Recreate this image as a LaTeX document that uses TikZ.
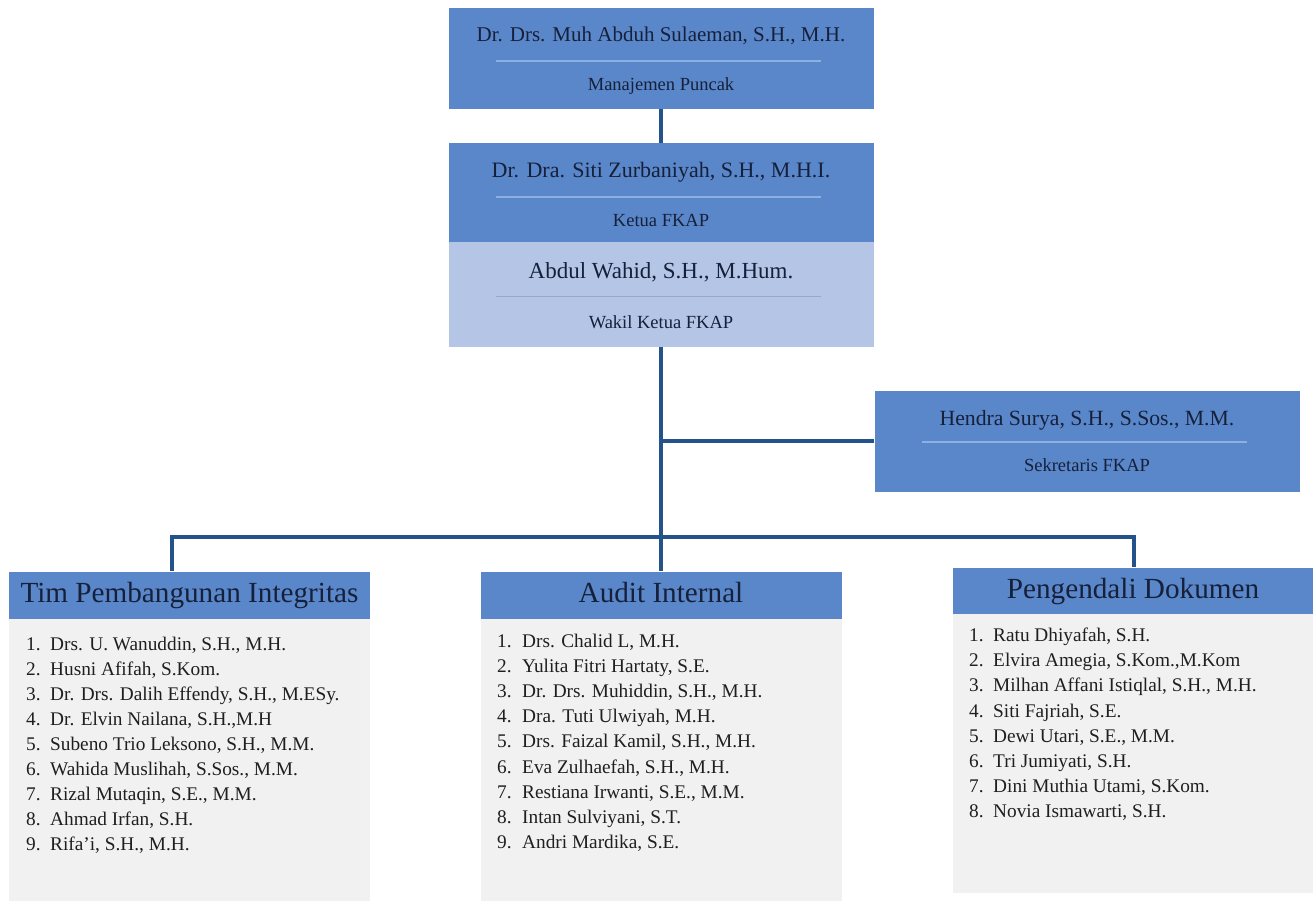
\documentclass[tikz,border=0pt]{standalone}
\usepackage{fontspec}
\setmainfont{Liberation Serif}
\definecolor{KotakBiru}{HTML}{5A87C9}
\definecolor{KotakMuda}{HTML}{B4C5E6}
\definecolor{KotakDaftar}{HTML}{F1F1F1}
\definecolor{GarisHubung}{HTML}{24528A}
\definecolor{TeksGelap}{HTML}{16203A}
\definecolor{GarisPisah}{HTML}{8DB0E3}
\definecolor{GarisPisahMuda}{HTML}{98A8C8}
\usetikzlibrary{calc}
\tikzset{
    kotak/.style={rectangle, inner sep=0pt, fill=KotakBiru,
        minimum width=425pt, minimum height=101pt},
    kotak muda/.style={kotak, fill=KotakMuda, minimum height=105pt},
    nama/.style={anchor=base, inner sep=0pt, text=TeksGelap,
        font=\fontsize{21}{24}\selectfont},
    jabatan/.style={anchor=base, inner sep=0pt, text=TeksGelap,
        font=\fontsize{18.5}{22}\selectfont},
    pisah/.style={draw=GarisPisah, line width=2pt},
    judul/.style={rectangle, inner sep=0pt, fill=KotakBiru, text=TeksGelap,
        minimum width=361pt, minimum height=47pt,
        text height=20pt, text depth=6pt,
        font=\fontsize{29.2}{33}\selectfont},
    daftar/.style={rectangle, inner sep=0pt, fill=KotakDaftar,
        minimum width=361pt},
    nomor/.style={anchor=base west, inner sep=0pt, text=black!88,
        font=\fontsize{19.3}{22}\selectfont},
    butir/.style={nomor},
    hubung/.style={draw=GarisHubung, line width=4pt}
}

\begin{document}
\begin{tikzpicture}[x=1pt, y=-1pt]

\useasboundingbox (0,0) rectangle (1313,902);

% Kotak pimpinan
\node[kotak] (Puncak) at (661,58) {};
\node[kotak, minimum height=99pt] (Ketua) at (661,192.5) {};
\node[kotak muda] (Wakil) at (661,294.2) {};
\node[kotak] (Sekretaris) at (1087,441) {};

% Nama dan jabatan
\node[nama] (PuncakNama) at ([yshift=-34.4pt]Puncak.north) {Dr. Drs. Muh Abduh Sulaeman, S.H., M.H.};
\node[jabatan] (PuncakJabatan) at ([yshift=-83.4pt]Puncak.north) {Manajemen Puncak};
\node[nama, font=\fontsize{22}{26}\selectfont] (KetuaNama) at ([yshift=-35pt]Ketua.north) {Dr. Dra. Siti Zurbaniyah, S.H., M.H.I.};
\node[jabatan] (KetuaJabatan) at ([yshift=-83.4pt]Ketua.north) {Ketua FKAP};
\node[nama, font=\fontsize{23}{27}\selectfont] (WakilNama) at ([yshift=-36.6pt]Wakil.north) {Abdul Wahid, S.H., M.Hum.};
\node[jabatan] (WakilJabatan) at ([yshift=-86.6pt]Wakil.north) {Wakil Ketua FKAP};
\node[nama, font=\fontsize{21.7}{25}\selectfont] (SekretarisNama) at ([yshift=-35pt]Sekretaris.north) {Hendra Surya, S.H., S.Sos., M.M.};
\node[jabatan] (SekretarisJabatan) at ([yshift=-81pt]Sekretaris.north) {Sekretaris FKAP};

% Garis pemisah di dalam kotak
\draw[pisah] ([xshift=48pt,yshift=-53.4pt]Puncak.north west) -- ([xshift=-53pt,yshift=-53.4pt]Puncak.north east);
\draw[pisah] ([xshift=48pt,yshift=-54pt]Ketua.north west) -- ([xshift=-53pt,yshift=-54pt]Ketua.north east);
\draw[pisah, draw=GarisPisahMuda, line width=1.2pt] ([xshift=48pt,yshift=-55pt]Wakil.north west) -- ([xshift=-53pt,yshift=-55pt]Wakil.north east);
\draw[pisah] ([xshift=48pt,yshift=-51.7pt]Sekretaris.north west) -- ([xshift=-53pt,yshift=-51.7pt]Sekretaris.north east);

% Kelompok kerja
\node[judul] (Tim) at (189.5,595) {Tim Pembangunan Integritas};
\node[daftar, minimum height=282pt] (TimDaftar) at (189.5,759.5) {};
\node[judul] (Audit) at (661,595) {Audit Internal};
\node[daftar, minimum height=282pt] (AuditDaftar) at (661,759.5) {};
\node[judul] (Dokumen) at (1133,591) {Pengendali Dokumen};
\node[daftar, minimum height=279pt] (DokumenDaftar) at (1133,753.8) {};

% Garis penghubung
\coordinate (BusKiri) at (172,537);
\coordinate (BusKanan) at (1134,537);
\coordinate (Cabang) at (Wakil.south |- Sekretaris.west);
\draw[hubung] (Puncak.south) -- (Ketua.north);
\draw[hubung] (Wakil.south) -- (Audit.north);
\draw[hubung] (Cabang) -- (Sekretaris.west);
\draw[hubung] (BusKiri |- Tim.north) -- (BusKiri) -- (BusKanan) -- (BusKanan |- Dokumen.north);

% Daftar anggota
\foreach \nama [count=\i] in {{Drs. U. Wanuddin, S.H., M.H.}, {Husni Afifah, S.Kom.},
    {Dr. Drs. Dalih Effendy, S.H., M.ESy.}, {Dr. Elvin Nailana, S.H.,M.H},
    {Subeno Trio Leksono, S.H., M.M.}, {Wahida Muslihah, S.Sos., M.M.},
    {Rizal Mutaqin, S.E., M.M.}, {Ahmad Irfan, S.H.}, {Rifa'i, S.H., M.H.}}{
    \node[nomor] (TimNo\i) at (26,{650+25*(\i-1)}) {\i.};
    \node[butir] (Tim\i) at (50,{650+25*(\i-1)}) {\nama};
}
\foreach \nama [count=\i] in {{Drs. Chalid L, M.H.}, {Yulita Fitri Hartaty, S.E.},
    {Dr. Drs. Muhiddin, S.H., M.H.}, {Dra. Tuti Ulwiyah, M.H.},
    {Drs. Faizal Kamil, S.H., M.H.}, {Eva Zulhaefah, S.H., M.H.},
    {Restiana Irwanti, S.E., M.M.}, {Intan Sulviyani, S.T.}, {Andri Mardika, S.E.}}{
    \node[nomor] (AuditNo\i) at (497,{647.5+25.1*(\i-1)}) {\i.};
    \node[butir] (Audit\i) at (522,{647.5+25.1*(\i-1)}) {\nama};
}
\foreach \nama [count=\i] in {{Ratu Dhiyafah, S.H.}, {Elvira Amegia, S.Kom.,M.Kom},
    {Milhan Affani Istiqlal, S.H., M.H.}, {Siti Fajriah, S.E.},
    {Dewi Utari, S.E., M.M.}, {Tri Jumiyati, S.H.},
    {Dini Muthia Utami, S.Kom.}, {Novia Ismawarti, S.H.}}{
    \node[nomor] (DokumenNo\i) at (969,{641.7+25.1*(\i-1)}) {\i.};
    \node[butir] (Dokumen\i) at (993,{641.7+25.1*(\i-1)}) {\nama};
}

\end{tikzpicture}
\end{document}
